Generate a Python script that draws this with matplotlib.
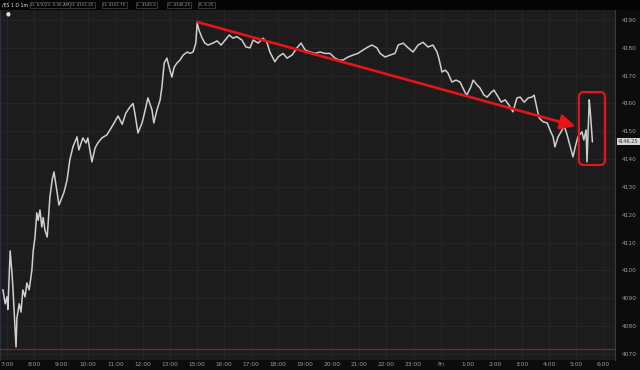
import matplotlib
matplotlib.use("Agg")
import matplotlib.pyplot as plt
from matplotlib.patches import FancyBboxPatch, Rectangle
import numpy as np

# ---- data: session minutes after 7:00 (14:00-15:00 break removed) and price ----
minutes = [-9, -4, 0, 2, 7, 11, 13, 18, 20, 22, 27, 31, 35, 40, 44, 49, 55, 58, 62, 66,
           69, 73, 77, 80, 84, 89, 91, 95, 100, 104, 111, 115, 122, 126, 133, 139, 146, 155,
           159, 168, 175, 179, 188, 195, 201, 210, 221, 228, 237, 246, 255, 263, 272, 279,
           283, 290, 299, 306, 312, 321, 325, 332, 339, 343, 348, 354, 359, 365, 370, 376,
           383, 390, 399, 405, 412, 418, 421, 425, 432, 438, 445, 456, 465, 474, 483, 492,
           500, 509, 520, 529, 538, 545, 556, 567, 576, 582, 593, 600, 611, 620, 631, 642,
           651, 660, 671, 682, 693, 704, 715, 726, 735, 744, 755, 766, 777, 788, 799, 808,
           819, 826, 837, 848, 859, 866, 877, 888, 899, 910, 921, 932, 943, 952, 956, 963,
           970, 976, 985, 994, 1003, 1014, 1018, 1027, 1032, 1041, 1047, 1056, 1063, 1072,
           1078, 1085, 1094, 1103, 1111, 1120, 1129, 1136, 1145, 1154, 1162, 1167, 1173,
           1178, 1187, 1196, 1202, 1209, 1213, 1220, 1229, 1233, 1240, 1246, 1253, 1258,
           1264, 1273, 1277, 1282, 1284, 1289, 1291, 1296]
price = [4093, 4088, 4090.5, 4086, 4107, 4099, 4094, 4079, 4072.5, 4083, 4088, 4085, 4093,
         4090.5, 4095.5, 4093, 4100, 4107, 4112, 4120.7, 4118, 4121.7, 4115.6, 4119, 4114.5,
         4112, 4117, 4126.4, 4132.5, 4135.4, 4128, 4123.5, 4126.4, 4128, 4132.5, 4139.7,
         4144.4, 4148, 4143.3, 4147.6, 4145.8, 4147.6, 4139, 4144, 4145.8, 4147.6, 4148.7,
         4150.5, 4153, 4155.5, 4152.5, 4156.5, 4158.7, 4160, 4156.6, 4149.4, 4153, 4157.7,
         4162, 4157.7, 4153, 4157.7, 4161.3, 4166, 4174.5, 4176.3, 4173, 4169.5, 4173,
         4174.5, 4175.6, 4177.4, 4178.5, 4178, 4178.5, 4181.7, 4189, 4186.4, 4183.5, 4181.7,
         4181, 4181.7, 4182.5, 4181, 4182.8, 4184.6, 4183.5, 4184, 4182.8, 4180.3, 4180,
         4182.8, 4181.7, 4183.5, 4181.7, 4178.5, 4175, 4176.7, 4178, 4176.3, 4177.4, 4180,
         4181.7, 4179.2, 4178.5, 4178, 4178.5, 4178, 4178, 4176.3, 4175.6, 4175.6, 4176.7,
         4177.4, 4178, 4179.2, 4180.3, 4181, 4180, 4178, 4176.7, 4177.4, 4178, 4181, 4181.7,
         4180, 4178.5, 4181, 4182, 4180.3, 4181, 4178.5, 4176.3, 4171.3, 4172, 4171, 4167.7,
         4168.4, 4167.7, 4164, 4163, 4166, 4168.4, 4166.6, 4165.6, 4163, 4162.3, 4164,
         4164.8, 4163, 4160.5, 4161.3, 4159.5, 4157, 4162, 4162.3, 4160.5, 4162, 4162.3,
         4163, 4158.4, 4154.8, 4153.4, 4153, 4150.5, 4148, 4144.4, 4148, 4150.5, 4152.3,
         4148.7, 4145, 4140.8, 4144.4, 4148, 4149.8, 4146.9, 4150.5, 4139, 4161.3, 4157.7,
         4146.25]

x_tick_labels = ["7:00", "8:00", "9:00", "10:00", "11:00", "12:00", "13:00", "15:00",
                 "16:00", "17:00", "18:00", "19:00", "20:00", "21:00", "22:00", "23:00",
                 "Fri", "1:00", "2:00", "3:00", "4:00", "5:00", "6:00"]
y_ticks = [4070, 4080, 4090, 4100, 4110, 4120, 4130, 4140, 4150, 4160, 4170, 4180, 4190]
last_price = 4146.25
low_line = 4071.8
arrow_start = (421, 4189.3)
arrow_end = (1258, 4151.9)
box_x = (1266, 1324)
box_y = (4137.9, 4164.1)
header_fields = ["D: 6/3/22, 5:36 AM", "O: 4151.25", "H: 4151.75", "L: 4145.5",
                 "C: 4146.25", "R: 6.25"]
symbol = "/ES 1 D 1m"

# ---- figure ----
W, H = 640, 370
fig = plt.figure(figsize=(W / 100, H / 100), dpi=100, facecolor="#0c0c0c")
ax = fig.add_axes([0, 10 / H, 615 / W, 350 / H])
ax.set_facecolor("#1c1c1c")

ax.set_xlim(-15.5, 1346)
ax.set_ylim(4067.8, 4193.6)

ax.set_xticks(np.arange(len(x_tick_labels)) * 60)
ax.set_xticklabels(x_tick_labels)
ax.set_yticks(y_ticks)
ax.set_yticklabels([str(v) for v in y_ticks])
ax.yaxis.tick_right()
ax.tick_params(axis="x", length=0, pad=1.2, labelsize=4.2, colors="#9a9a9a")
ax.tick_params(axis="y", length=0, pad=5, labelsize=4.2, colors="#9a9a9a")
ax.grid(True, color="#272727", lw=0.6)
ax.set_axisbelow(True)
for s in ["top", "bottom"]:
    ax.spines[s].set_visible(False)
ax.spines["right"].set_color("#3c3c3c")
ax.spines["right"].set_linewidth(0.8)
ax.spines["left"].set_color("#2c3a48")
ax.spines["left"].set_linewidth(1.2)

# low-of-day line
ax.axhline(low_line, color="#7a2530", lw=0.9, zorder=2)

# price
ax.plot(minutes, price, color="#cfcfcf", lw=1.1, zorder=3)

# red arrow
ax.annotate("", xy=arrow_end, xytext=arrow_start,
            arrowprops=dict(arrowstyle="-|>,head_length=0.75,head_width=0.38",
                            color="#e3151a", lw=1.9, mutation_scale=12,
                            shrinkA=0, shrinkB=0), zorder=5)

# red rounded box
xr = (ax.get_xlim()[1] - ax.get_xlim()[0]) / 615
yr = (ax.get_ylim()[1] - ax.get_ylim()[0]) / 350
box = FancyBboxPatch((box_x[0], box_y[0]), box_x[1] - box_x[0], box_y[1] - box_y[0],
                     boxstyle="round,pad=0,rounding_size=%f" % (5 * xr),
                     mutation_aspect=yr / xr, fc="none", ec="#e3151a", lw=1.6, zorder=5)
ax.add_patch(box)

# current price label on the price axis
trans = ax.get_yaxis_transform()
ax.text(1.0 + 3 / 615, last_price, f"{last_price:.2f}", transform=trans, fontsize=3.6,
        color="#333333", va="center", ha="left",
        bbox=dict(boxstyle="square,pad=0.2", fc="#d4d4d4", ec="none"), clip_on=False)

# header bar
fig.patches.append(Rectangle((0, 1 - 10 / H), 1, 10 / H, transform=fig.transFigure,
                             fc="#050505", ec="none", zorder=0))
fig.text(2 / W, 1 - 5 / H, symbol, fontsize=3.3, color="#e8e8e8", va="center", ha="left")
field_x = [31, 71, 103, 137, 168, 199]
for fx, t in zip(field_x, header_fields):
    fig.text(fx / W, 1 - 5 / H, t, fontsize=3.0, color="#9a9a9a", va="center", ha="left",
             bbox=dict(boxstyle="square,pad=0.3", fc="#050505", ec="#4a4a4a", lw=0.5))
fig.text(8 / W, 1 - 14 / H, "●", fontsize=4, color="#dddddd", va="center", ha="center")

fig.savefig("out.png", dpi=100, facecolor=fig.get_facecolor())
